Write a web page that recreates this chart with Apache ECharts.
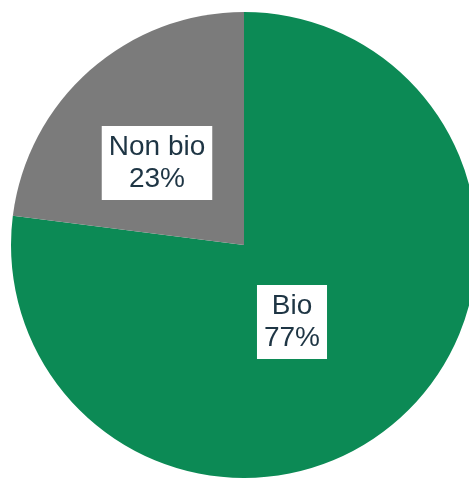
<!DOCTYPE html>
<html>
<head>
<meta charset="utf-8">
<script src="https://cdn.jsdelivr.net/npm/echarts@6/dist/echarts.min.js"></script>
<style>
  html, body { margin: 0; padding: 0; background: #fff; }
  #chart { width: 469px; height: 479px; }
</style>
</head>
<body>
<div id="chart"></div>
<script>
// Share of organic vs. non-organic
const categories = ['Bio', 'Non bio'];
const shares = [77, 23];
const colors = ['#0c8a55', '#7b7b7b'];

// Label anchor points (px) for each slice's boxed label
const labelCenters = [[292, 322], [157, 163]];

const chart = echarts.init(document.getElementById('chart'));
chart.setOption({
  animation: false,
  series: [{
    type: 'pie',
    center: [244, 245],
    radius: 233,
    startAngle: 90,
    clockwise: true,
    silent: true,
    data: categories.map((name, i) => ({
      name,
      value: shares[i],
      itemStyle: { color: colors[i] }
    })),
    label: {
      show: true,
      position: 'inside',
      formatter: '{b}\n{d}%',
      fontFamily: 'Liberation Sans, Arial, sans-serif',
      fontSize: 28,
      lineHeight: 32,
      color: '#1e3544',
      backgroundColor: '#ffffff',
      padding: [6, 7, 4, 7],
      align: 'center'
    },
    labelLine: { show: false },
    labelLayout: function (params) {
      const c = labelCenters[params.dataIndex];
      return { x: c[0], y: c[1], align: 'center', verticalAlign: 'middle' };
    }
  }]
});
</script>
</body>
</html>
